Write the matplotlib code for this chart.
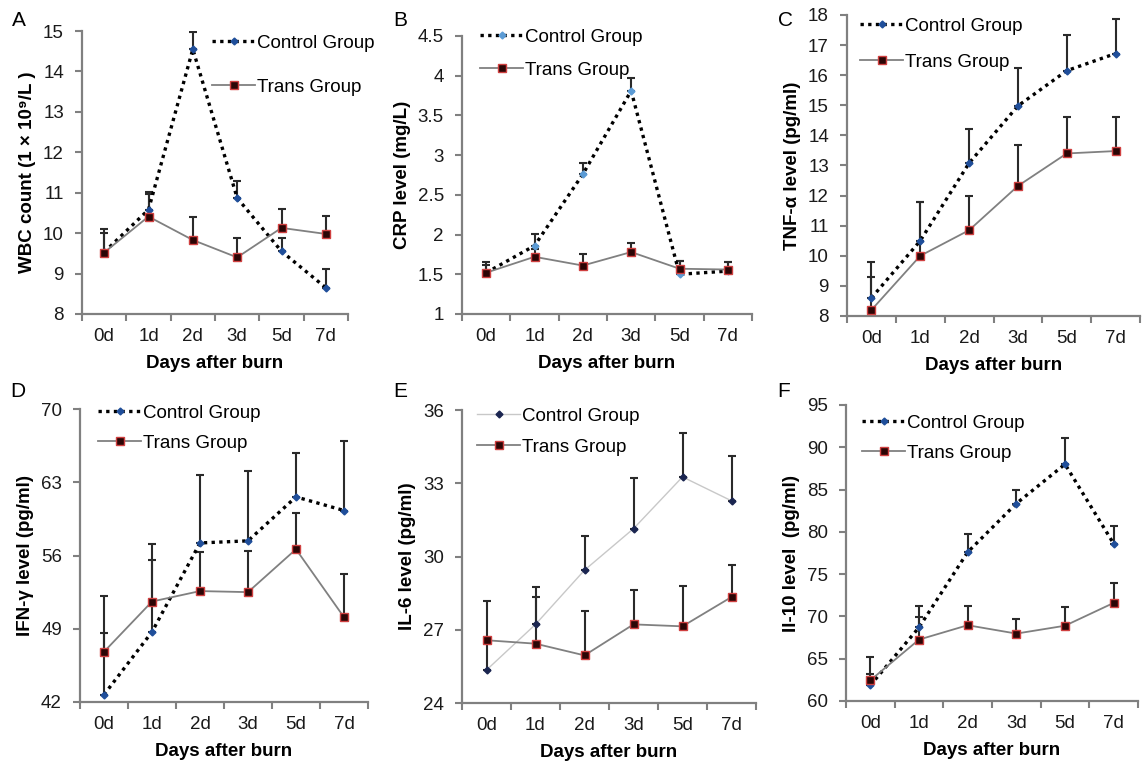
import numpy as np
import matplotlib
matplotlib.use("Agg")
import matplotlib.pyplot as plt

plt.rcParams['font.family'] = ['Liberation Sans', 'DejaVu Sans']

days = ['0d', '1d', '2d', '3d', '5d', '7d']

# values (mean, upper error)
wbc_ctrl = [9.53, 10.58, 14.55, 10.87, 9.55, 8.65]
wbc_ctrl_err = [0.57, 0.43, 0.42, 0.41, 0.33, 0.46]
wbc_trans = [9.52, 10.41, 9.83, 9.40, 10.13, 9.98]
wbc_trans_err = [0.48, 0.57, 0.58, 0.48, 0.46, 0.45]

crp_ctrl = [1.52, 1.86, 2.76, 3.81, 1.50, 1.54]
crp_ctrl_err = [0.14, 0.15, 0.14, 0.16, 0.17, 0.12]
crp_trans = [1.52, 1.72, 1.61, 1.78, 1.57, 1.56]
crp_trans_err = [0.10, 0.10, 0.15, 0.12, 0.10, 0.10]

tnf_ctrl = [8.6, 10.5, 13.08, 14.98, 16.15, 16.72]
tnf_ctrl_err = [0.7, 1.3, 1.12, 1.25, 1.2, 1.15]
tnf_trans = [8.2, 10.0, 10.85, 12.32, 13.4, 13.48]
tnf_trans_err = [1.58, 1.8, 1.14, 1.35, 1.2, 1.12]

ifn_ctrl = [42.7, 48.7, 57.2, 57.4, 61.6, 60.3]
ifn_ctrl_err = [5.9, 6.9, 6.5, 6.7, 4.2, 6.6]
ifn_trans = [46.8, 51.6, 52.6, 52.5, 56.6, 50.1]
ifn_trans_err = [5.3, 5.5, 3.7, 3.9, 3.5, 4.1]

il6_ctrl = [25.35, 27.22, 29.44, 31.14, 33.26, 32.28]
il6_ctrl_err = [1.2, 1.12, 1.39, 2.06, 1.78, 1.82]
il6_trans = [26.57, 26.43, 25.95, 27.22, 27.14, 28.34]
il6_trans_err = [1.61, 2.32, 1.81, 1.42, 1.65, 1.33]

il10_ctrl = [61.85, 68.7, 77.6, 83.35, 88.0, 78.6]
il10_ctrl_err = [1.35, 1.2, 2.2, 1.65, 3.05, 2.1]
il10_trans = [62.45, 67.26, 68.96, 67.97, 68.9, 71.6]
il10_trans_err = [2.75, 3.94, 2.24, 1.73, 2.2, 2.4]

ylabels = ['WBC count (1 × 10⁹/L )', 'CRP level (mg/L)', 'TNF-α level (pg/ml)',
           'IFN-γ level (pg/ml)', 'IL-6 level (pg/ml)', 'Il-10 level  (pg/ml)']
letters = ['A', 'B', 'C', 'D', 'E', 'F']
yticks = [np.arange(8, 15.1, 1), np.arange(1, 4.51, 0.5), np.arange(8, 18.1, 1),
          np.arange(42, 70.1, 7), np.arange(24, 36.1, 3), np.arange(60, 95.1, 5)]

panels = [
    (wbc_ctrl, wbc_ctrl_err, wbc_trans, wbc_trans_err),
    (crp_ctrl, crp_ctrl_err, crp_trans, crp_trans_err),
    (tnf_ctrl, tnf_ctrl_err, tnf_trans, tnf_trans_err),
    (ifn_ctrl, ifn_ctrl_err, ifn_trans, ifn_trans_err),
    (il6_ctrl, il6_ctrl_err, il6_trans, il6_trans_err),
    (il10_ctrl, il10_ctrl_err, il10_trans, il10_trans_err),
]

# axes rectangles in pixels: left, right, top, bottom
W, H = 1143, 763
boxes = [(82, 348, 31, 314), (462, 752, 36, 314), (847, 1140, 15, 316),
         (80, 368, 409, 702), (462, 756, 410, 703), (846, 1138, 405, 701)]
# legend: handle left x, first row y (px), row gap (px)
legs = [(212, 43, 44), (480, 37, 33), (860, 26, 36),
        (98, 413, 30), (477, 416, 31), (862, 423, 30)]
ctrl_mk = ['#1f4e9a', '#5b9bd5', '#1f4e9a', '#1f4e9a', '#1a2550', '#1f4e9a']

fig = plt.figure(figsize=(W / 100, H / 100), dpi=100)
x = np.arange(len(days))
grey = '#808080'
fs = 13.5
fs_px = fs * 100 / 72

for i, (c, ce, t, te) in enumerate(panels):
    l, r, tp, b = boxes[i]
    ax = fig.add_axes([l / W, 1 - b / H, (r - l) / W, (b - tp) / H])
    ec = dict(ecolor='#2a2a2a', elinewidth=1.5, capsize=3, capthick=1.5, fmt='none', zorder=2)
    ax.errorbar(x, c, yerr=[np.zeros(6), ce], **ec)
    ax.errorbar(x, t, yerr=[np.zeros(6), te], **ec)
    if i == 4:
        hc, = ax.plot(x, c, '-', color='#c8c8c8', lw=1.0, marker='D', ms=3.5,
                      mfc=ctrl_mk[i], mec=ctrl_mk[i], zorder=3)
    else:
        hc, = ax.plot(x, c, color='black', lw=2.4, ls=(0, (1, 1.3)), marker='D', ms=3.5,
                      mfc=ctrl_mk[i], mec=ctrl_mk[i], zorder=3)
    ht, = ax.plot(x, t, '-', color=grey, lw=1.3, marker='s', ms=5.5,
                  mfc='#2b0505', mec='#d04040', mew=1.0, zorder=4)

    yt = yticks[i]
    ax.set_ylim(yt[0], yt[-1])
    ax.set_yticks(yt)
    ax.set_yticklabels(['%g' % v for v in yt])
    ax.set_xlim(-0.5, 5.5)
    ax.set_xticks(np.arange(-0.5, 5.6, 1))
    ax.set_xticklabels([])
    ax.set_xticks(x, minor=True)
    ax.set_xticklabels(days, minor=True)
    ax.tick_params(axis='x', which='major', length=5, width=1.5, color=grey, direction='out')
    ax.tick_params(axis='x', which='minor', length=0, pad=10, labelsize=fs, labelcolor='#1a1a1a')
    ax.tick_params(axis='y', length=5, width=1.5, color=grey, pad=8, labelsize=fs,
                   labelcolor='#1a1a1a')
    for s in ['top', 'right']:
        ax.spines[s].set_visible(False)
    for s in ['left', 'bottom']:
        ax.spines[s].set_color(grey)
        ax.spines[s].set_linewidth(1.6)
    ax.set_xlabel('Days after burn', fontsize=13.5, fontweight='bold', labelpad=7)
    ax.set_ylabel(ylabels[i], fontsize=13.5, fontweight='bold', labelpad=5)

    lx, ly, gap = legs[i]
    ax.legend([hc, ht], ['Control Group', 'Trans Group'], loc='upper left',
              bbox_to_anchor=((lx - l) / (r - l), 1 - (ly - tp - 8.5) / (b - tp)),
              frameon=False, fontsize=fs, handlelength=2.3, handletextpad=0.12,
              borderpad=0, borderaxespad=0, labelspacing=(gap - 16.7) / fs_px)

    fig.text((l - 70) / W if i % 3 == 0 else (l - 69) / W,
             1 - (26 if i < 3 else 397) / H, letters[i], fontsize=15, va='baseline', ha='left')

fig.savefig('out.png', dpi=100)
